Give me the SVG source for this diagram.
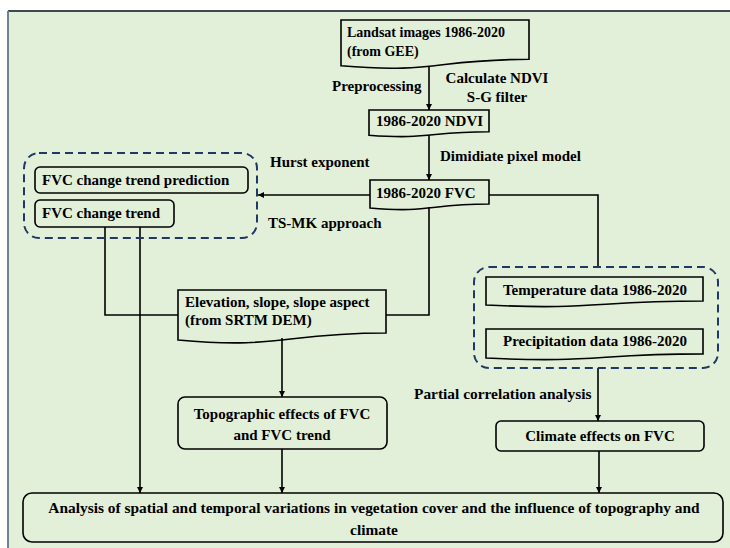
<svg xmlns="http://www.w3.org/2000/svg" width="730" height="548" viewBox="0 0 730 548" font-family="'Liberation Serif', 'Times New Roman', Times, serif" font-weight="bold" font-size="15">
<defs>
<style>
text{font-family:'Liberation Serif','Times New Roman',Times,serif;font-weight:bold;font-size:15px;fill:#000}
.box{fill:none;stroke:#000;stroke-width:1.6}
.grp{fill:none;stroke:#203864;stroke-width:2;stroke-dasharray:8 5}
.con{fill:none;stroke:#000;stroke-width:1.6}
.arr{marker-end:url(#ah)}
.c{text-anchor:middle}
.s14{font-size:14px}
.big{font-size:15.4px}
</style>
<marker id="ah" viewBox="0 0 8 8" refX="8" refY="4" markerWidth="6" markerHeight="6" orient="auto" markerUnits="userSpaceOnUse">
<path d="M0,0 L8,4 L0,8 Z" fill="#000"/>
</marker>
</defs>
<rect x="0" y="0" width="730" height="548" fill="#fff"/>
<rect x="8" y="11" width="740" height="560" fill="#E2EFD9"/>
<line x1="8" y1="11" x2="730" y2="11" stroke="#3B4A55" stroke-width="2"/>
<line x1="8" y1="11" x2="8" y2="548" stroke="#6F8090" stroke-width="2"/>

<g id="connectors">
<path class="con arr" d="M429,66 V110"/>
<path class="con arr" d="M429,135 V180"/>
<path class="con arr" d="M370,195 H258"/>
<path class="con" d="M489,195 H598 V267"/>
<path class="con" d="M429,207 V315 H386"/>
<path class="con" d="M105,227 V315 H178"/>
<path class="con arr" d="M140,227 V493"/>
<path class="con arr" d="M282,338 V397"/>
<path class="con arr" d="M282,449 V493"/>
<path class="con arr" d="M598,368 V421"/>
<path class="con arr" d="M599,451 V493"/>
</g>

<g id="labels">
<text x="332" y="91">Preprocessing</text>
<text x="497" y="83" class="c">Calculate NDVI</text>
<text x="497" y="102" class="c">S-G filter</text>
<text x="440" y="161">Dimidiate pixel model</text>
<text x="270" y="167">Hurst exponent</text>
<text x="268" y="228">TS-MK approach</text>
<text x="414" y="399" class="big">Partial correlation analysis</text>
</g>

<g id="landsat">
<path class="box" d="M341,20 H529 V59.3 C435,59.3 435,74 341,65.8 Z"/>
<text x="347" y="37" class="s14">Landsat images 1986-2020</text>
<text x="347" y="56" class="s14">(from GEE)</text>
</g>

<g id="ndvi">
<path class="box" d="M369,110 H489 V131.7 C429,131.7 429,139.9 369,135.2 Z"/>
<text x="376" y="126">1986-2020 NDVI</text>
</g>

<g id="fvc">
<path class="box" d="M370,180 H489 V204 C429.5,204 429.5,213.2 370,208 Z"/>
<text x="376" y="198">1986-2020 FVC</text>
</g>

<g id="trend-group">
<rect class="grp" x="24" y="153" width="233" height="85" rx="15"/>
</g>
<g id="trend-prediction">
<rect class="box" x="35" y="167" width="213" height="26" rx="5"/>
<text x="42" y="185">FVC change trend prediction</text>
</g>
<g id="trend">
<rect class="box" x="35" y="200" width="139" height="27" rx="5"/>
<text x="42" y="218">FVC change trend</text>
</g>

<g id="elevation">
<path class="box" d="M178,290 H386 V333 C282,333 282,349.3 178,340 Z"/>
<text x="185" y="307">Elevation, slope, slope aspect</text>
<text x="185" y="325">(from SRTM DEM)</text>
</g>

<g id="climate-group">
<rect class="grp" x="474" y="267" width="244" height="101" rx="15"/>
</g>
<g id="temperature">
<path class="box" d="M486,277 H703 V301 C594.5,301 594.5,310.2 486,305 Z"/>
<text x="595" y="295" class="c">Temperature data 1986-2020</text>
</g>
<g id="precipitation">
<path class="box" d="M486,329 H703 V353.9 C594.5,353.9 594.5,363.4 486,358 Z"/>
<text x="595" y="346" class="c">Precipitation data 1986-2020</text>
</g>

<g id="topographic">
<rect class="box" x="178" y="397" width="209" height="52" rx="7"/>
<text x="282" y="419" class="c">Topographic effects of FVC</text>
<text x="282" y="440" class="c">and FVC trend</text>
</g>

<g id="climate-effects">
<rect class="box" x="496" y="421" width="208" height="30" rx="5"/>
<text x="600" y="441" class="c">Climate effects on FVC</text>
</g>

<g id="analysis">
<rect class="box" x="23" y="493" width="700" height="49" rx="9"/>
<text x="374" y="513" class="c big">Analysis of spatial and temporal variations in vegetation cover and the influence of topography and</text>
<text x="374" y="535" class="c big">climate</text>
</g>
</svg>
